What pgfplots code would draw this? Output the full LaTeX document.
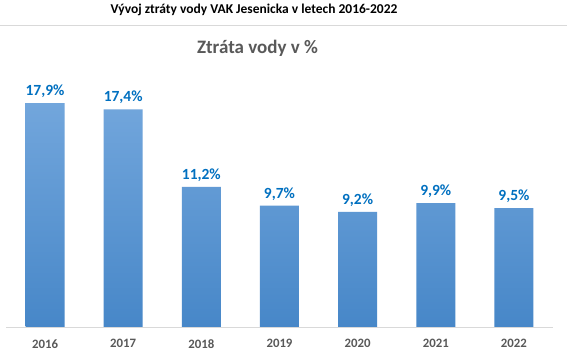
\documentclass[border=0pt]{standalone}
\usepackage{pgfplots}
\pgfplotsset{compat=1.18}
\usepackage{fontspec}
\setmainfont{Carlito}
\definecolor{lbl}{HTML}{0070C0}
\definecolor{txt}{HTML}{595959}
\definecolor{bartop}{HTML}{72A6DC}
\definecolor{barbot}{HTML}{4787C8}
\definecolor{grid}{HTML}{D9D9D9}
\begin{document}
\begin{tikzpicture}
\path[use as bounding box, fill=white] (0,0) rectangle (567bp,360bp);
\draw[grid, line width=0.8bp] (0,335bp) -- (567bp,335bp);
\node[font=\fontsize{13.5bp}{15bp}\selectfont\bfseries] at (254bp,350bp) {Vývoj ztráty vody VAK Jesenicka v letech 2016-2022};
\node[font=\fontsize{19bp}{21bp}\selectfont\bfseries, text=txt] at (257.5bp,312bp) {Ztráta vody v \%};
\begin{axis}[
  at={(6bp,33bp)}, anchor=south west,
  scale only axis, width=547bp, height=250.2bp,
  xmin=-0.5, xmax=6.5, ymin=0, ymax=20,
  ybar, bar width=39bp,
  axis x line*=bottom, hide y axis,
  axis line style={grid, line width=0.8bp},
  xtick=data, xticklabels={2016,2017,2018,2019,2020,2021,2022},
  major tick length=0pt,
  x tick label style={font=\fontsize{12.8bp}{14bp}\selectfont\bfseries, text=txt, yshift=-9bp},
  nodes near coords={\pgfmathprintnumber[fixed, fixed zerofill, precision=1, use comma]{\pgfplotspointmeta}\%},
  nodes near coords style={font=\fontsize{15.5bp}{17bp}\selectfont\bfseries, text=lbl, anchor=south, yshift=2bp},
  /pgf/number format/assume math mode=true,
]
\addplot[draw=none, top color=bartop, bottom color=barbot] coordinates {(0,17.9) (1,17.4) (2,11.2) (3,9.7) (4,9.2) (5,9.9) (6,9.5)};
\end{axis}
\end{tikzpicture}
\end{document}
